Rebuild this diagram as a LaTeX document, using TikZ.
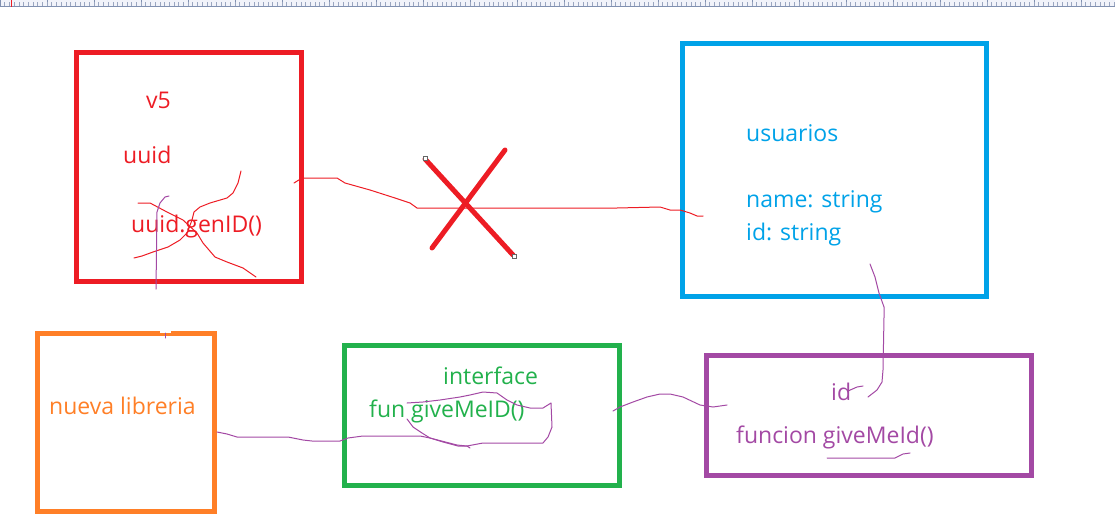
\documentclass[tikz,border=0pt]{standalone}
\usepackage{fontspec}
\setmainfont{Open Sans}
\definecolor{paintred}{RGB}{237,28,36}
\definecolor{paintblue}{RGB}{0,162,232}
\definecolor{paintorange}{RGB}{255,127,39}
\definecolor{paintgreen}{RGB}{34,177,76}
\definecolor{paintpurple}{RGB}{163,73,164}
\definecolor{rulerband}{RGB}{241,243,250}
\definecolor{rulerline}{RGB}{128,144,176}
\tikzset{
	sketchbox/.style={rectangle, draw, line width=5pt, inner sep=0pt},
	note/.style={anchor=base west, inner sep=0pt, font=\fontsize{23}{27}\selectfont},
	scribble/.style={line width=1pt, line join=round, line cap=round},
	cross/.style={line width=5pt, line cap=round, draw=paintred},
	handle/.style={rectangle, draw=gray!80!black, fill=white, line width=0.8pt, minimum size=4pt, inner sep=0pt},
}

\begin{document}
\begin{tikzpicture}[x=1pt, y=-1pt]
	\useasboundingbox (0,0) rectangle (1115,519);
	% ruler
	\fill[rulerband] (0,0) rectangle (1115,6);
	\draw[rulerline, line width=1.2pt] (0,6.5) -- (1115,6.5);
	\foreach \i in {0,...,23}
		\draw[rulerline, line width=0.6pt] (\i*47,0) -- (\i*47,6);
	\foreach \i in {1,...,237}
		\draw[rulerline!80, line width=0.5pt] (\i*4.7,2.5) -- (\i*4.7,6);
	\draw[paintred, line width=0.8pt] (11,0) -- (11,7);

	% boxes
	\node[sketchbox, draw=paintred, minimum width=224.5pt, minimum height=229pt] (uuidbox) at (188.75,167) {};
	\node[sketchbox, draw=paintblue, minimum width=303.5pt, minimum height=252.5pt] (usuarios) at (834.25,169.75) {};
	\node[sketchbox, draw=paintorange, minimum width=177pt, minimum height=178pt] (libreria) at (126,422.5) {};
	\node[sketchbox, draw=paintgreen, minimum width=275pt, minimum height=139.5pt] (interface) at (482,415.25) {};
	\node[sketchbox, draw=paintpurple, minimum width=325pt, minimum height=119.5pt] (funcion) at (869,415.25) {};

	% texts
	\node[note, text=paintred] (v5) at (146,108) {v5};
	\node[note, text=paintred] (uuid) at (123,163) {uuid};
	\node[note, text=paintred] (genid) at (131,232) {uuid.genID()};
	\node[note, text=paintblue] (tabla) at (746,141) {usuarios};
	\node[note, text=paintblue] (name) at (746,207) {name: string};
	\node[note, text=paintblue] (idfield) at (746,240) {id: string};
	\node[note, text=paintorange] (nueva) at (49,414) {nueva libreria};
	\node[note, text=paintgreen] (ifname) at (443,384) {interface};
	\node[note, text=paintgreen] (fun) at (369,417) {fun giveMeID()};
	\node[note, text=paintpurple] (idfun) at (831,400) {id};
	\node[note, text=paintpurple] (give) at (736,443) {funcion giveMeId()};

	% scribbles over the red box
	\draw[scribble, paintred] (241,171) -- (238,183) -- (233,193) -- (227,198) -- (210,203) -- (200,207) -- (194,212) -- (192,220) -- (187,233) -- (180,240) -- (168,247) -- (153,252) -- (142,256) -- (134,258);
	\draw[scribble, paintred] (138,203) -- (150,203) -- (167,212) -- (183,220) -- (197,233) -- (203,243) -- (215,257) -- (227,262) -- (243,268) -- (256,277);

	% red connector, crossed out
	\coordinate (redstart) at (294,183);
	\coordinate (redend) at (703,216);
	\draw[scribble, paintred] (redstart) -- (302,178) -- (337,178) -- (345,183) -- (370,190) -- (395,198) -- (410,203) -- (417,208) -- (617,208) -- (660,207) -- (670,210) -- (680,210) -- (690,213) -- (697,216) -- (redend);
	\draw[cross] (425,159) -- (513,255);
	\draw[cross] (505,150) -- (432,248);
	\node[handle] (h1) at (425,158) {};
	\node[handle] (h2) at (514,256) {};

	% purple connectors
	\coordinate (vtop) at (169,196);
	\coordinate (vbot) at (156,289);
	\draw[scribble, paintpurple] (vtop) -- (165,197) -- (160,203) -- (157,212) -- (vbot);
	\fill[white] (159.5,330.5) rectangle (170.5,333);
	\draw[scribble, paintpurple] (165,333) -- (165,338);

	\coordinate (libout) at (217,432);
	\draw[scribble, paintpurple] (libout) -- (227,434) -- (237,437) -- (288,437) -- (303,440) -- (312,441) -- (340,441) -- (348,438) -- (363,436) -- (420,436) -- (430,438) -- (457,445) -- (467,446) -- (470,448);
	\draw[scribble, paintpurple] (407,419) -- (413,427) -- (422,433) -- (430,438) -- (443,442) -- (458,446) -- (467,446) -- (483,443) -- (543,443) -- (548,437) -- (552,427) -- (551,403) -- (543,408) -- (530,408) -- (517,405) -- (507,400) -- (497,393) -- (483,392) -- (470,395) -- (460,397) -- (440,400) -- (423,402) -- (407,403);

	\coordinate (ifout) at (613,411);
	\coordinate (funin) at (727,405);
	\draw[scribble, paintpurple] (ifout) -- (620,407) -- (633,402) -- (647,397) -- (660,394) -- (670,394) -- (683,397) -- (700,405) -- (713,407) -- (funin);

	\coordinate (usrout) at (870,264);
	\coordinate (idin) at (868,397);
	\draw[scribble, paintpurple] (usrout) -- (875,277) -- (879,293) -- (884,307) -- (884,317) -- (883,370) -- (882,382) -- (877,390) -- (idin);
	\draw[scribble, paintpurple] (848,391) -- (857,387) -- (863,386);
	\draw[scribble, paintpurple] (827,458) -- (895,458) -- (903,454) -- (910,453);
\end{tikzpicture}
\end{document}
